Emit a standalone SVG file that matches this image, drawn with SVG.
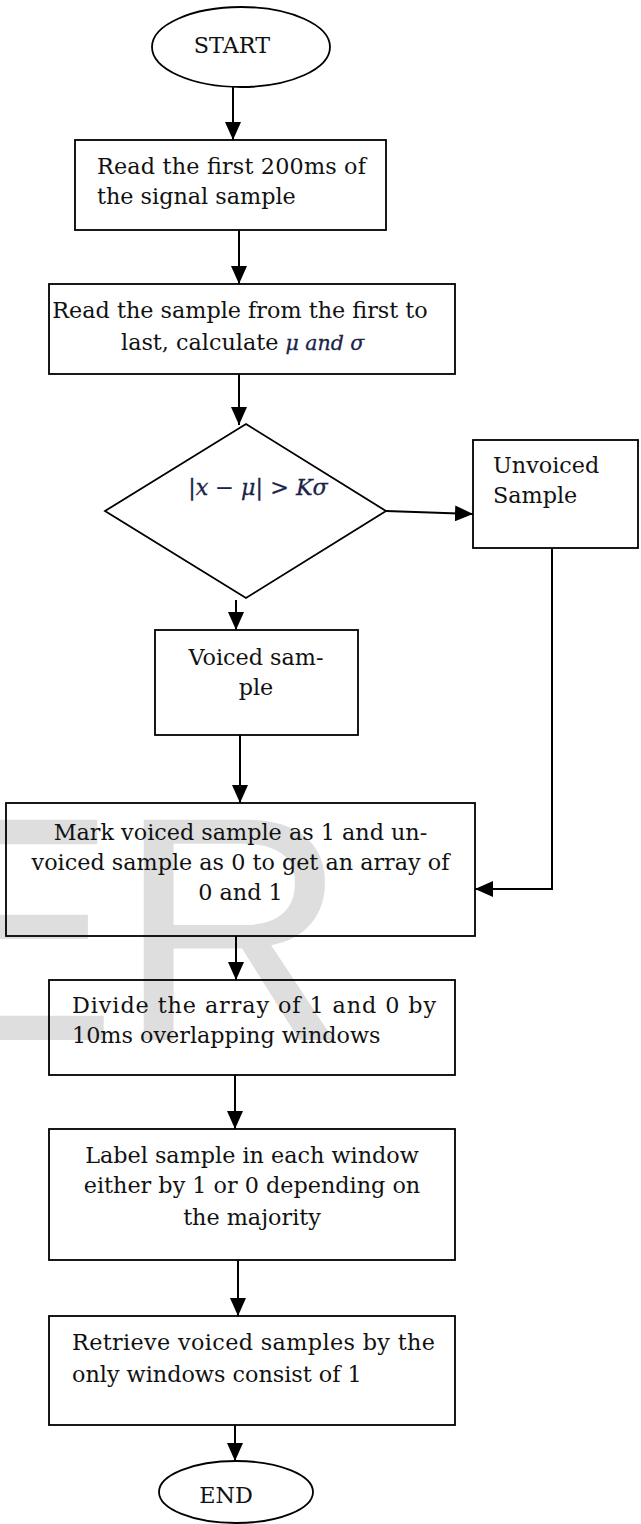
<svg xmlns="http://www.w3.org/2000/svg" width="641" height="1524" viewBox="0 0 641 1524">
<style>
.n{fill:none;stroke:#000;stroke-width:1.8}
.t{font-family:"DejaVu Serif","Liberation Serif",serif;font-size:22.3px;fill:#111}
.c{text-anchor:middle}
.m{font-style:italic;fill:#1a2448;stroke:#1a2448;stroke-width:0.3}
.e{stroke:#000;stroke-width:2;fill:none}
.wm{font-family:"Liberation Sans",Arial,sans-serif;font-size:320px;fill:#dedede}
</style>
<defs>
<marker id="ah" viewBox="0 0 18 16" markerWidth="18" markerHeight="16" refX="18" refY="8" orient="auto" markerUnits="userSpaceOnUse"><path d="M0,0L18,8L0,16z" fill="#000"/></marker>
</defs>
<rect width="641" height="1524" fill="#fff"/>
<text class="wm" x="-96" y="1040">ER</text>

<g id="start">
<ellipse class="n" cx="241" cy="47" rx="89" ry="40"/>
<text class="t c" x="232" y="53">START</text>
</g>

<g id="read200">
<rect class="n" x="75" y="140" width="311" height="90"/>
<text class="t" x="97" y="174" textLength="269" lengthAdjust="spacing">Read the first 200ms of</text>
<text class="t" x="97" y="204">the signal sample</text>
</g>

<g id="calc">
<rect class="n" x="49" y="284" width="406" height="90"/>
<text class="t c" x="240" y="318">Read the sample from the first to</text>
<text class="t" x="121" y="350">last, calculate <tspan class="m" font-size="20.5">μ and σ</tspan></text>
</g>

<g id="decision">
<polygon class="n" points="246,424 386,511 246,598 105,511"/>
<text class="t c m" x="258" y="495" font-size="20">|x − μ| &gt; Kσ</text>
</g>

<g id="unvoiced">
<rect class="n" x="473" y="440" width="165" height="108"/>
<text class="t" x="493" y="473">Unvoiced</text>
<text class="t" x="493" y="503">Sample</text>
</g>

<g id="voiced">
<rect class="n" x="155" y="630" width="203" height="105"/>
<text class="t c" x="256" y="665">Voiced sam-</text>
<text class="t c" x="256" y="695">ple</text>
</g>

<g id="mark">
<rect class="n" x="6" y="803" width="469" height="133"/>
<text class="t c" x="240.5" y="840">Mark voiced sample as 1 and un-</text>
<text class="t c" x="240.5" y="870">voiced sample as 0 to get an array of</text>
<text class="t c" x="240.5" y="900">0 and 1</text>
</g>

<g id="divide">
<rect class="n" x="49" y="980" width="406" height="95"/>
<text class="t" x="72" y="1013" textLength="364" lengthAdjust="spacing">Divide the array of 1 and 0 by</text>
<text class="t" x="72" y="1043">10ms overlapping windows</text>
</g>

<g id="label">
<rect class="n" x="49" y="1129" width="406" height="131"/>
<text class="t c" x="252" y="1163">Label sample in each window</text>
<text class="t c" x="252" y="1193">either by 1 or 0 depending on</text>
<text class="t c" x="252" y="1225">the majority</text>
</g>

<g id="retrieve">
<rect class="n" x="49" y="1316" width="406" height="109"/>
<text class="t" x="72" y="1350" textLength="363" lengthAdjust="spacing">Retrieve voiced samples by the</text>
<text class="t" x="72" y="1382">only windows consist of 1</text>
</g>

<g id="end">
<ellipse class="n" cx="236" cy="1492" rx="77" ry="31"/>
<text class="t c" x="226" y="1503">END</text>
</g>

<g id="connectors">
<line class="e" x1="233" y1="87" x2="233" y2="140" marker-end="url(#ah)"/>
<line class="e" x1="239" y1="230" x2="239" y2="284" marker-end="url(#ah)"/>
<line class="e" x1="239" y1="374" x2="239" y2="425" marker-end="url(#ah)"/>
<line class="e" x1="386" y1="511" x2="473" y2="514" marker-end="url(#ah)"/>
<line class="e" x1="236" y1="600" x2="236" y2="630" marker-end="url(#ah)"/>
<line class="e" x1="240" y1="735" x2="240" y2="803" marker-end="url(#ah)"/>
<polyline class="e" points="552,548 552,889 475,889" marker-end="url(#ah)"/>
<line class="e" x1="236" y1="936" x2="236" y2="980" marker-end="url(#ah)"/>
<line class="e" x1="235" y1="1075" x2="235" y2="1129" marker-end="url(#ah)"/>
<line class="e" x1="238" y1="1260" x2="238" y2="1316" marker-end="url(#ah)"/>
<line class="e" x1="235" y1="1425" x2="235" y2="1461" marker-end="url(#ah)"/>
</g>
</svg>
